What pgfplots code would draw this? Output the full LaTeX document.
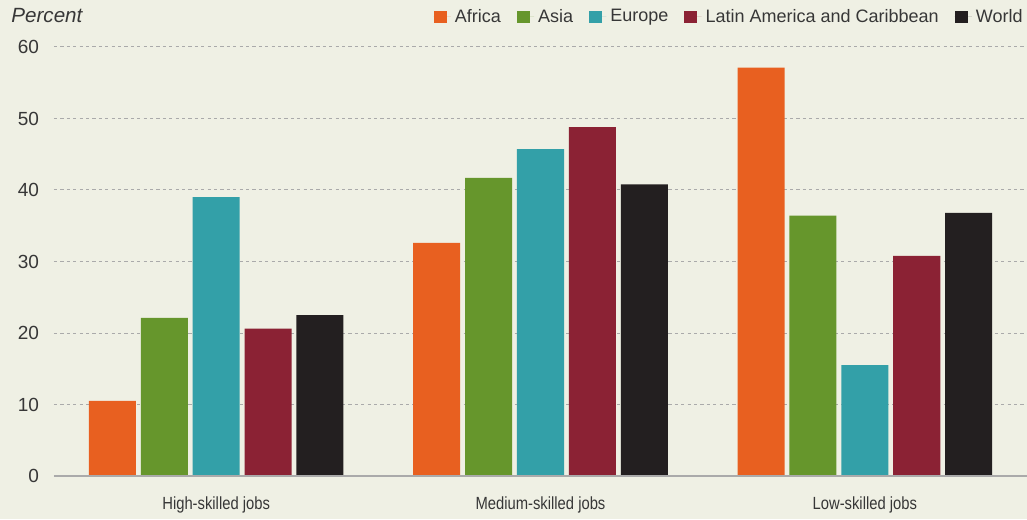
\documentclass[border=0pt]{standalone}
\usepackage{pgfplots}
\pgfplotsset{compat=1.18}
\usepackage{fontspec}
\setmainfont{Liberation Sans}
\newfontfamily\narrowfont[FakeStretch=0.84]{Liberation Sans}
\definecolor{bg}{RGB}{239,240,228}
\definecolor{africa}{RGB}{232,96,32}
\definecolor{asia}{RGB}{102,150,44}
\definecolor{europe}{RGB}{51,160,168}
\definecolor{lac}{RGB}{139,34,52}
\definecolor{world}{RGB}{35,31,32}
\definecolor{txt}{RGB}{55,55,55}
\definecolor{gridc}{RGB}{170,170,170}

\begin{document}
\begin{tikzpicture}
\fill[bg] (-27pt,-21.5pt) rectangle (486.5pt,238pt);
\path[use as bounding box] (-27pt,-21.5pt) rectangle (486.5pt,238pt);
\begin{axis}[
    at={(0,0)}, anchor=south west,
    scale only axis,
    clip=false,
    width=486.5pt, height=214.5pt,
    xmin=-0.5, xmax=2.5,
    ymin=0, ymax=60,
    ytick={0,10,...,60},
    xtick={0,1,2},
    xticklabels={High-skilled jobs,Medium-skilled jobs,Low-skilled jobs},
    major tick length=0pt,
    axis line style={draw=none},
    ymajorgrids=true,
    grid style={gridc, dash pattern=on 1.6pt off 1.6pt, line width=0.5pt},
    /pgf/number format/assume math mode=true,
    yticklabel style={font=\fontsize{9.5}{11}\selectfont, text=txt, xshift=-4pt},
    xticklabel style={font=\narrowfont\fontsize{8.8}{10}\selectfont, text=txt, yshift=-7pt},
    ybar, bar width=0.145,
    legend columns=5,
    legend style={draw=none, fill=none, font=\fontsize{9}{10.5}\selectfont, text=txt,
        at={(rel axis cs:1,1)}, anchor=east, yshift=15pt, xshift=3pt,
        /tikz/every even column/.append style={column sep=6pt}},
    legend image code/.code={\path (0pt,0pt) -- (8.6pt,0pt);
        \fill[#1] (0pt,-3.2pt) rectangle (6.4pt,3.2pt);},
]
\addplot[draw=none, fill=africa, bar shift=-0.32] coordinates {(0,10.5) (1,32.6) (2,57.1)};
\addplot[draw=none, fill=asia, bar shift=-0.16] coordinates {(0,22.1) (1,41.7) (2,36.4)};
\addplot[draw=none, fill=europe, bar shift=0] coordinates {(0,39.0) (1,45.7) (2,15.5)};
\addplot[draw=none, fill=lac, bar shift=0.16] coordinates {(0,20.6) (1,48.8) (2,30.8)};
\addplot[draw=none, fill=world, bar shift=0.32] coordinates {(0,22.5) (1,40.8) (2,36.8)};
\legend{Africa,Asia,Europe,Latin America and Caribbean,World}
\draw[gridc, line width=0.8pt] (axis cs:-0.5,0) -- (axis cs:2.5,0);
\node[anchor=west, inner sep=0pt, text=txt, font=\itshape\fontsize{10.3}{12}\selectfont]
    at ([xshift=-21.5pt, yshift=15.5pt]rel axis cs:0,1) {Percent};
\end{axis}
\end{tikzpicture}
\end{document}
